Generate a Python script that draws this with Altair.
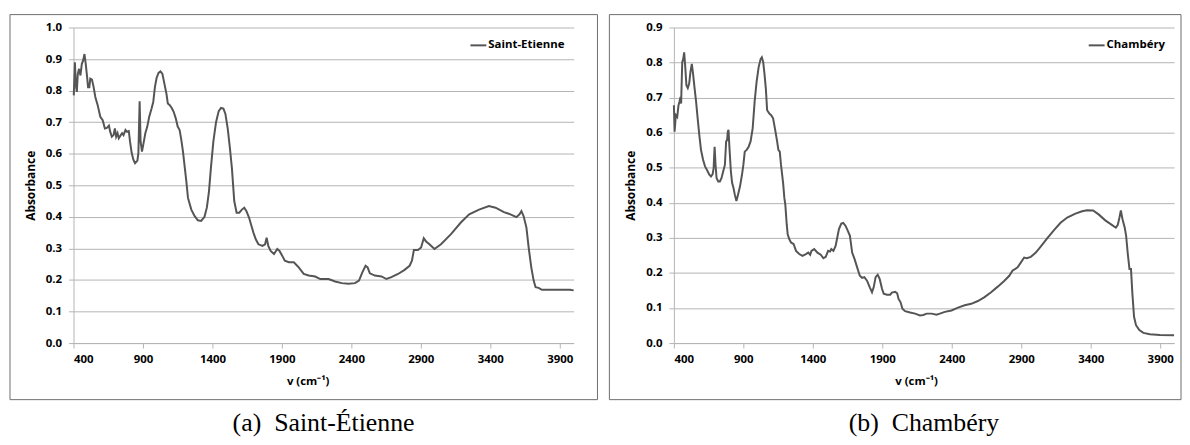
import altair as alt
import pandas as pd

# ---- Saint-Etienne spectrum (wavenumber cm-1, absorbance) ----
se_wavenumber = [402, 410, 417, 424, 431, 440, 450, 460, 469, 479, 488, 498, 505, 514, 521, 533, 545, 557,
                 574, 593, 610, 626, 640, 655, 664, 676, 688, 698, 707, 717, 726, 740, 750, 760, 774, 783,
                 798, 807, 819, 831, 843, 860, 867, 876, 883, 893, 902, 917, 931, 945, 962, 974, 986, 998,
                 1012, 1026, 1040, 1052, 1069, 1079, 1093, 1107, 1121, 1136, 1150, 1164, 1176, 1188, 1200,
                 1212, 1224, 1248, 1271, 1295, 1319, 1343, 1360, 1375, 1390, 1407, 1426, 1445, 1462, 1479,
                 1493, 1510, 1526, 1540, 1557, 1574, 1593, 1612, 1629, 1645, 1664, 1681, 1695, 1712, 1731,
                 1760, 1779, 1790, 1802, 1819, 1843, 1867, 1883, 1902, 1921, 1950, 1986, 2010, 2021, 2057,
                 2093, 2140, 2176, 2236, 2283, 2331, 2379, 2426, 2455, 2479, 2502, 2517, 2533, 2569, 2617,
                 2652, 2688, 2736, 2783, 2819, 2836, 2850, 2879, 2902, 2921, 2938, 2962, 2998, 3045, 3117,
                 3188, 3248, 3319, 3390, 3438, 3498, 3545, 3588, 3610, 3624, 3640, 3660, 3676, 3695, 3712,
                 3726, 3748, 3771, 3831, 3902, 3974, 4000]
se_absorbance = [0.785, 0.890, 0.817, 0.796, 0.853, 0.869, 0.848, 0.885, 0.895, 0.916, 0.885, 0.843, 0.811,
                 0.811, 0.838, 0.835, 0.811, 0.780, 0.754, 0.717, 0.706, 0.680, 0.682, 0.689, 0.670, 0.654,
                 0.659, 0.680, 0.654, 0.665, 0.649, 0.659, 0.665, 0.659, 0.675, 0.670, 0.672, 0.638, 0.602,
                 0.581, 0.570, 0.578, 0.602, 0.766, 0.638, 0.607, 0.628, 0.665, 0.686, 0.717, 0.743, 0.764,
                 0.811, 0.840, 0.856, 0.861, 0.853, 0.827, 0.790, 0.759, 0.754, 0.745, 0.733, 0.712, 0.686,
                 0.675, 0.644, 0.607, 0.560, 0.513, 0.460, 0.423, 0.403, 0.389, 0.387, 0.400, 0.430, 0.480,
                 0.560, 0.640, 0.700, 0.735, 0.745, 0.743, 0.727, 0.680, 0.617, 0.555, 0.450, 0.413, 0.413,
                 0.423, 0.429, 0.418, 0.397, 0.371, 0.350, 0.329, 0.313, 0.308, 0.313, 0.334, 0.308, 0.292,
                 0.282, 0.298, 0.292, 0.277, 0.261, 0.256, 0.256, 0.245, 0.240, 0.219, 0.214, 0.211, 0.203,
                 0.203, 0.195, 0.190, 0.188, 0.190, 0.198, 0.224, 0.245, 0.240, 0.221, 0.214, 0.211, 0.203,
                 0.209, 0.219, 0.232, 0.245, 0.261, 0.295, 0.295, 0.303, 0.332, 0.322, 0.313, 0.298, 0.313,
                 0.345, 0.382, 0.408, 0.423, 0.434, 0.429, 0.415, 0.408, 0.399, 0.408, 0.418, 0.402, 0.366,
                 0.303, 0.240, 0.198, 0.177, 0.175, 0.169, 0.169, 0.169, 0.169, 0.167]

# ---- Chambery spectrum ----
ch_wavenumber = [400, 405, 414, 424, 433, 440, 448, 452, 460, 467, 474, 481, 490, 500, 510, 519, 529, 538,
                 548, 560, 571, 583, 595, 610, 624, 640, 655, 667, 679, 686, 693, 700, 707, 719, 731, 743,
                 755, 767, 776, 783, 788, 793, 800, 810, 819, 829, 838, 850, 862, 876, 890, 900, 910, 924,
                 938, 952, 967, 981, 995, 1010, 1024, 1033, 1043, 1052, 1062, 1071, 1086, 1100, 1114, 1129,
                 1143, 1152, 1162, 1171, 1186, 1195, 1202, 1212, 1219, 1231, 1243, 1262, 1279, 1302, 1326,
                 1350, 1367, 1381, 1390, 1410, 1433, 1457, 1476, 1493, 1510, 1524, 1533, 1548, 1564, 1576,
                 1588, 1605, 1619, 1636, 1652, 1667, 1683, 1700, 1719, 1738, 1755, 1771, 1790, 1810, 1826,
                 1838, 1852, 1867, 1881, 1898, 1910, 1933, 1957, 1969, 1993, 2007, 2017, 2031, 2045, 2064,
                 2100, 2136, 2171, 2195, 2219, 2255, 2290, 2314, 2350, 2398, 2445, 2493, 2540, 2588, 2636,
                 2683, 2731, 2779, 2814, 2838, 2855, 2874, 2898, 2921, 2940, 2969, 3005, 3040, 3088, 3136,
                 3183, 3231, 3290, 3338, 3374, 3417, 3457, 3505, 3552, 3581, 3595, 3607, 3617, 3629, 3645,
                 3655, 3667, 3679, 3690, 3700, 3712, 3726, 3750, 3779, 3826, 3898, 4000]
ch_absorbance = [0.678, 0.603, 0.650, 0.645, 0.678, 0.688, 0.702, 0.683, 0.801, 0.810, 0.829, 0.792, 0.735,
                 0.727, 0.740, 0.773, 0.796, 0.768, 0.730, 0.688, 0.641, 0.593, 0.551, 0.523, 0.504, 0.492,
                 0.480, 0.475, 0.482, 0.499, 0.560, 0.508, 0.471, 0.461, 0.461, 0.471, 0.490, 0.508, 0.575,
                 0.579, 0.603, 0.608, 0.556, 0.490, 0.457, 0.442, 0.424, 0.405, 0.424, 0.447, 0.480, 0.508,
                 0.546, 0.551, 0.560, 0.575, 0.612, 0.688, 0.744, 0.787, 0.810, 0.815, 0.801, 0.768, 0.725,
                 0.664, 0.655, 0.650, 0.641, 0.608, 0.575, 0.551, 0.546, 0.508, 0.457, 0.414, 0.395, 0.339,
                 0.310, 0.296, 0.287, 0.282, 0.263, 0.254, 0.249, 0.254, 0.258, 0.252, 0.263, 0.268, 0.258,
                 0.252, 0.242, 0.246, 0.263, 0.261, 0.268, 0.263, 0.277, 0.301, 0.325, 0.341, 0.343, 0.334,
                 0.320, 0.306, 0.258, 0.240, 0.216, 0.192, 0.186, 0.188, 0.178, 0.159, 0.145, 0.159, 0.188,
                 0.195, 0.183, 0.155, 0.141, 0.138, 0.138, 0.144, 0.146, 0.142, 0.126, 0.117, 0.098, 0.091,
                 0.087, 0.084, 0.079, 0.080, 0.084, 0.084, 0.081, 0.084, 0.089, 0.093, 0.101, 0.108, 0.112,
                 0.120, 0.131, 0.145, 0.161, 0.178, 0.192, 0.207, 0.211, 0.216, 0.230, 0.244, 0.242, 0.246,
                 0.258, 0.275, 0.299, 0.322, 0.343, 0.358, 0.369, 0.376, 0.379, 0.378, 0.367, 0.350, 0.337,
                 0.329, 0.337, 0.358, 0.378, 0.353, 0.329, 0.306, 0.254, 0.211, 0.211, 0.141, 0.075, 0.051,
                 0.037, 0.029, 0.025, 0.023, 0.022]

x_ticks = [400, 900, 1400, 1900, 2400, 2900, 3400, 3900]
se_y_ticks = [0.0, 0.1, 0.2, 0.3, 0.4, 0.5, 0.6, 0.7, 0.8, 0.9, 1.0]
ch_y_ticks = [0.0, 0.1, 0.2, 0.3, 0.4, 0.5, 0.6, 0.7, 0.8, 0.9]

W, H = 504, 318
LINE = "#555555"
GRID = "#b4b4b4"
FRAME = "#6e6e6e"
FONT = "Open Sans"


def panel(wn, ab, name, y_ticks, caption, frame_left, frame_right, title_x):
    df = pd.DataFrame({"wavenumber": wn, "absorbance": ab, "series": name})
    one = pd.DataFrame({"k": [0]})
    frame = alt.Chart(one).mark_rect(fillOpacity=0, stroke=FRAME, strokeWidth=1).encode(
        x=alt.value(frame_left), x2=alt.value(frame_right),
        y=alt.value(-13), y2=alt.value(375),
    )
    line = alt.Chart(df).mark_line(strokeWidth=2).encode(
        x=alt.X("wavenumber:Q",
                scale=alt.Scale(domain=[400, 4000], nice=False, zero=False),
                axis=alt.Axis(values=x_ticks, format="d", title="v (cm⁻¹)", grid=False, titleX=title_x,
                              labelPadding=6, titlePadding=10)),
        y=alt.Y("absorbance:Q",
                scale=alt.Scale(domain=[0, y_ticks[-1]], nice=False),
                axis=alt.Axis(values=y_ticks, format=".1f", title="Absorbance", grid=True,
                              labelPadding=7, titlePadding=8, titleFontSize=12)),
        color=alt.Color("series:N", scale=alt.Scale(range=[LINE]),
                        legend=alt.Legend(title=None, orient="top-right", offset=9, padding=0,
                                          symbolType="stroke", symbolSize=256, symbolStrokeWidth=2,
                                          labelOffset=1, labelFont=FONT, labelFontWeight="bold",
                                          labelFontSize=11.5, labelColor="black")),
    )
    return alt.layer(frame, line).properties(
        width=W, height=H,
        title=alt.TitleParams(caption, orient="bottom", anchor="middle", font="Liberation Serif",
                              fontSize=26, fontWeight="normal", color="black", offset=10),
    )


left = panel(se_wavenumber, se_absorbance, "Saint-Etienne", se_y_ticks,
             "(a)\u00a0\u00a0Saint-Étienne", -64, 528, 236)
right = panel(ch_wavenumber, ch_absorbance, "Chambéry", ch_y_ticks,
              "(b)\u00a0\u00a0Chambéry", -65, 511, 244)

chart = alt.hconcat(left, right, spacing=10).resolve_scale(
    y="independent", color="independent"
).resolve_legend(color="independent").properties(
    padding={"left": 1, "top": 4, "right": 0, "bottom": 0}
).configure_view(stroke="transparent").configure_axis(
    domainColor=GRID, tickColor=GRID, gridColor=GRID, tickSize=5,
    labelFont=FONT, labelFontWeight="bold", labelFontSize=11.5, labelColor="black",
    titleFont=FONT, titleFontWeight="bold", titleFontSize=11.5, titleColor="black",
)

chart.save("out.html", embed_options={"renderer": "svg", "actions": False})
